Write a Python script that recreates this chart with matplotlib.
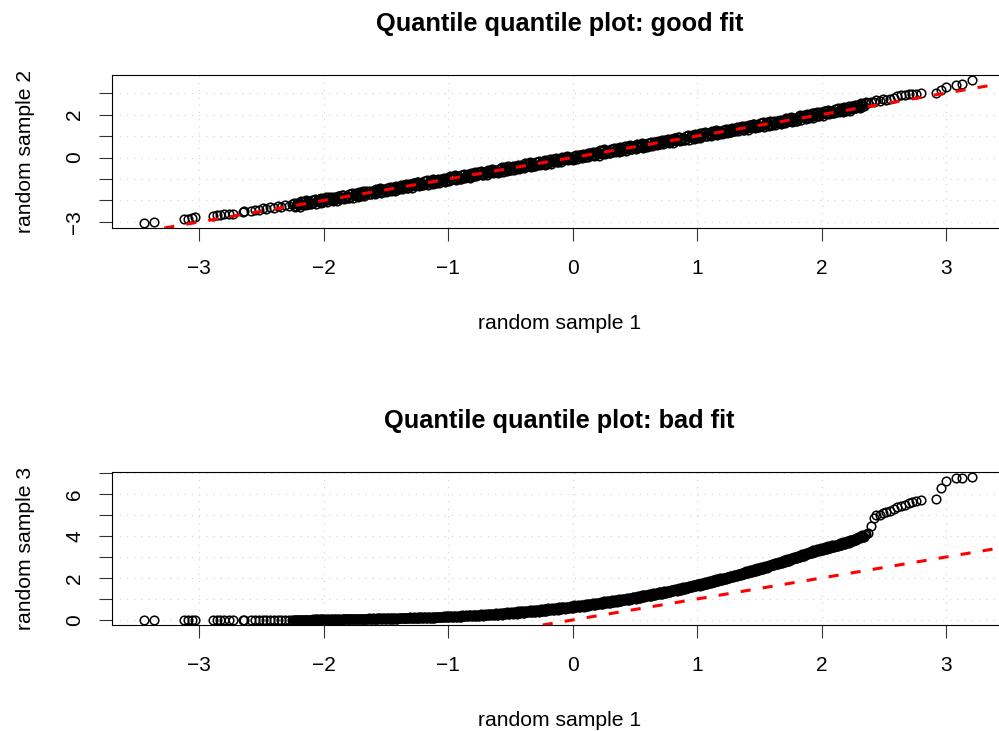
import matplotlib
matplotlib.use("Agg")
import matplotlib.pyplot as plt

plt.rcParams['font.family'] = ['Liberation Sans', 'DejaVu Sans']

# ---- data (quantiles) ----
sample1_left = [-3.44, -3.36, -3.12, -3.09, -3.06, -3.03, -2.89, -2.86, -2.83, -2.80,
                -2.76, -2.73, -2.65, -2.64, -2.58, -2.55, -2.52, -2.49, -2.46, -2.43,
                -2.40, -2.37, -2.34, -2.31, -2.28, -2.25]
sample1_core = [
    -2.235, -2.220, -2.205, -2.190, -2.175, -2.160, -2.145, -2.130, -2.115, -2.100,
    -2.085, -2.070, -2.055, -2.040, -2.025, -2.010, -1.995, -1.980, -1.965, -1.950,
    -1.935, -1.920, -1.905, -1.890, -1.875, -1.860, -1.845, -1.830, -1.815, -1.800,
    -1.785, -1.770, -1.755, -1.740, -1.725, -1.710, -1.695, -1.680, -1.665, -1.650,
    -1.635, -1.620, -1.605, -1.590, -1.575, -1.560, -1.545, -1.530, -1.515, -1.500,
    -1.485, -1.470, -1.455, -1.440, -1.425, -1.410, -1.395, -1.380, -1.365, -1.350,
    -1.335, -1.320, -1.305, -1.290, -1.275, -1.260, -1.245, -1.230, -1.215, -1.200,
    -1.185, -1.170, -1.155, -1.140, -1.125, -1.110, -1.095, -1.080, -1.065, -1.050,
    -1.035, -1.020, -1.005, -0.990, -0.975, -0.960, -0.945, -0.930, -0.915, -0.900,
    -0.885, -0.870, -0.855, -0.840, -0.825, -0.810, -0.795, -0.780, -0.765, -0.750,
    -0.735, -0.720, -0.705, -0.690, -0.675, -0.660, -0.645, -0.630, -0.615, -0.600,
    -0.585, -0.570, -0.555, -0.540, -0.525, -0.510, -0.495, -0.480, -0.465, -0.450,
    -0.435, -0.420, -0.405, -0.390, -0.375, -0.360, -0.345, -0.330, -0.315, -0.300,
    -0.285, -0.270, -0.255, -0.240, -0.225, -0.210, -0.195, -0.180, -0.165, -0.150,
    -0.135, -0.120, -0.105, -0.090, -0.075, -0.060, -0.045, -0.030, -0.015, 0.000,
    0.015, 0.030, 0.045, 0.060, 0.075, 0.090, 0.105, 0.120, 0.135, 0.150,
    0.165, 0.180, 0.195, 0.210, 0.225, 0.240, 0.255, 0.270, 0.285, 0.300,
    0.315, 0.330, 0.345, 0.360, 0.375, 0.390, 0.405, 0.420, 0.435, 0.450,
    0.465, 0.480, 0.495, 0.510, 0.525, 0.540, 0.555, 0.570, 0.585, 0.600,
    0.615, 0.630, 0.645, 0.660, 0.675, 0.690, 0.705, 0.720, 0.735, 0.750,
    0.765, 0.780, 0.795, 0.810, 0.825, 0.840, 0.855, 0.870, 0.885, 0.900,
    0.915, 0.930, 0.945, 0.960, 0.975, 0.990, 1.005, 1.020, 1.035, 1.050,
    1.065, 1.080, 1.095, 1.110, 1.125, 1.140, 1.155, 1.170, 1.185, 1.200,
    1.215, 1.230, 1.245, 1.260, 1.275, 1.290, 1.305, 1.320, 1.335, 1.350,
    1.365, 1.380, 1.395, 1.410, 1.425, 1.440, 1.455, 1.470, 1.485, 1.500,
    1.515, 1.530, 1.545, 1.560, 1.575, 1.590, 1.605, 1.620, 1.635, 1.650,
    1.665, 1.680, 1.695, 1.710, 1.725, 1.740, 1.755, 1.770, 1.785, 1.800,
    1.815, 1.830, 1.845, 1.860, 1.875, 1.890, 1.905, 1.920, 1.935, 1.950,
    1.965, 1.980, 1.995, 2.010, 2.025, 2.040, 2.055, 2.070, 2.085, 2.100,
    2.115, 2.130, 2.145, 2.160, 2.175, 2.190, 2.205, 2.220, 2.235, 2.250,
    2.265, 2.280, 2.295, 2.310, 2.325, 2.340, 2.355]
sample1_core_b = [
    -2.2275, -2.2125, -2.1975, -2.1825, -2.1675, -2.1525, -2.1375, -2.1225, -2.1075, -2.0925,
    -2.0775, -2.0625, -2.0475, -2.0325, -2.0175, -2.0025, -1.9875, -1.9725, -1.9575, -1.9425,
    -1.9275, -1.9125, -1.8975, -1.8825, -1.8675, -1.8525, -1.8375, -1.8225, -1.8075, -1.7925,
    -1.7775, -1.7625, -1.7475, -1.7325, -1.7175, -1.7025, -1.6875, -1.6725, -1.6575, -1.6425,
    -1.6275, -1.6125, -1.5975, -1.5825, -1.5675, -1.5525, -1.5375, -1.5225, -1.5075, -1.4925,
    -1.4775, -1.4625, -1.4475, -1.4325, -1.4175, -1.4025, -1.3875, -1.3725, -1.3575, -1.3425,
    -1.3275, -1.3125, -1.2975, -1.2825, -1.2675, -1.2525, -1.2375, -1.2225, -1.2075, -1.1925,
    -1.1775, -1.1625, -1.1475, -1.1325, -1.1175, -1.1025, -1.0875, -1.0725, -1.0575, -1.0425,
    -1.0275, -1.0125, -0.9975, -0.9825, -0.9675, -0.9525, -0.9375, -0.9225, -0.9075, -0.8925,
    -0.8775, -0.8625, -0.8475, -0.8325, -0.8175, -0.8025, -0.7875, -0.7725, -0.7575, -0.7425,
    -0.7275, -0.7125, -0.6975, -0.6825, -0.6675, -0.6525, -0.6375, -0.6225, -0.6075, -0.5925,
    -0.5775, -0.5625, -0.5475, -0.5325, -0.5175, -0.5025, -0.4875, -0.4725, -0.4575, -0.4425,
    -0.4275, -0.4125, -0.3975, -0.3825, -0.3675, -0.3525, -0.3375, -0.3225, -0.3075, -0.2925,
    -0.2775, -0.2625, -0.2475, -0.2325, -0.2175, -0.2025, -0.1875, -0.1725, -0.1575, -0.1425,
    -0.1275, -0.1125, -0.0975, -0.0825, -0.0675, -0.0525, -0.0375, -0.0225, -0.0075, 0.0075,
    0.0225, 0.0375, 0.0525, 0.0675, 0.0825, 0.0975, 0.1125, 0.1275, 0.1425, 0.1575,
    0.1725, 0.1875, 0.2025, 0.2175, 0.2325, 0.2475, 0.2625, 0.2775, 0.2925, 0.3075,
    0.3225, 0.3375, 0.3525, 0.3675, 0.3825, 0.3975, 0.4125, 0.4275, 0.4425, 0.4575,
    0.4725, 0.4875, 0.5025, 0.5175, 0.5325, 0.5475, 0.5625, 0.5775, 0.5925, 0.6075,
    0.6225, 0.6375, 0.6525, 0.6675, 0.6825, 0.6975, 0.7125, 0.7275, 0.7425, 0.7575,
    0.7725, 0.7875, 0.8025, 0.8175, 0.8325, 0.8475, 0.8625, 0.8775, 0.8925, 0.9075,
    0.9225, 0.9375, 0.9525, 0.9675, 0.9825, 0.9975, 1.0125, 1.0275, 1.0425, 1.0575,
    1.0725, 1.0875, 1.1025, 1.1175, 1.1325, 1.1475, 1.1625, 1.1775, 1.1925, 1.2075,
    1.2225, 1.2375, 1.2525, 1.2675, 1.2825, 1.2975, 1.3125, 1.3275, 1.3425, 1.3575,
    1.3725, 1.3875, 1.4025, 1.4175, 1.4325, 1.4475, 1.4625, 1.4775, 1.4925, 1.5075,
    1.5225, 1.5375, 1.5525, 1.5675, 1.5825, 1.5975, 1.6125, 1.6275, 1.6425, 1.6575,
    1.6725, 1.6875, 1.7025, 1.7175, 1.7325, 1.7475, 1.7625, 1.7775, 1.7925, 1.8075,
    1.8225, 1.8375, 1.8525, 1.8675, 1.8825, 1.8975, 1.9125, 1.9275, 1.9425, 1.9575,
    1.9725, 1.9875, 2.0025, 2.0175, 2.0325, 2.0475, 2.0625, 2.0775, 2.0925, 2.1075,
    2.1225, 2.1375, 2.1525, 2.1675, 2.1825, 2.1975, 2.2125, 2.2275, 2.2425, 2.2575,
    2.2725, 2.2875, 2.3025, 2.3175, 2.3325, 2.3475]
sample1_right = [2.37, 2.40, 2.42, 2.44, 2.47, 2.49, 2.52, 2.55, 2.58, 2.61,
                 2.64, 2.67, 2.70, 2.73, 2.76, 2.80, 2.92, 2.96, 3.00, 3.08,
                 3.13, 3.21]

sample2_left = [-3.04, -3.00, -2.88, -2.85, -2.80, -2.76, -2.72, -2.69, -2.66, -2.64,
                -2.62, -2.61, -2.53, -2.51, -2.48, -2.42, -2.45, -2.36, -2.40, -2.30,
                -2.35, -2.25, -2.30, -2.20, -2.26, -2.17]
sample2_core = [
    -2.105, -2.270, -2.145, -2.280, -2.075, -2.150, -1.995, -2.160, -2.075, -2.170,
    -2.125, -1.940, -2.045, -1.940, -2.115, -1.950, -2.045, -1.860, -1.975, -1.870,
    -1.835, -2.000, -1.875, -2.010, -1.805, -1.880, -1.725, -1.890, -1.805, -1.900,
    -1.845, -1.660, -1.765, -1.660, -1.835, -1.670, -1.765, -1.580, -1.695, -1.590,
    -1.535, -1.700, -1.575, -1.710, -1.505, -1.580, -1.425, -1.590, -1.505, -1.600,
    -1.545, -1.360, -1.465, -1.360, -1.535, -1.370, -1.465, -1.280, -1.395, -1.290,
    -1.235, -1.400, -1.275, -1.410, -1.205, -1.280, -1.125, -1.290, -1.205, -1.300,
    -1.245, -1.060, -1.165, -1.060, -1.235, -1.070, -1.165, -0.980, -1.095, -0.990,
    -0.935, -1.100, -0.975, -1.110, -0.905, -0.980, -0.825, -0.990, -0.905, -1.000,
    -0.945, -0.760, -0.865, -0.760, -0.935, -0.770, -0.865, -0.680, -0.795, -0.690,
    -0.635, -0.800, -0.675, -0.810, -0.605, -0.680, -0.525, -0.690, -0.605, -0.700,
    -0.645, -0.460, -0.565, -0.460, -0.635, -0.470, -0.565, -0.380, -0.495, -0.390,
    -0.335, -0.500, -0.375, -0.510, -0.305, -0.380, -0.225, -0.390, -0.305, -0.400,
    -0.345, -0.160, -0.265, -0.160, -0.335, -0.170, -0.265, -0.080, -0.195, -0.090,
    -0.035, -0.200, -0.075, -0.210, -0.005, -0.080, 0.075, -0.090, -0.005, -0.100,
    -0.045, 0.140, 0.035, 0.140, -0.035, 0.130, 0.035, 0.220, 0.105, 0.210,
    0.265, 0.100, 0.225, 0.090, 0.295, 0.220, 0.375, 0.210, 0.295, 0.200,
    0.255, 0.440, 0.335, 0.440, 0.265, 0.430, 0.335, 0.520, 0.405, 0.510,
    0.565, 0.400, 0.525, 0.390, 0.595, 0.520, 0.675, 0.510, 0.595, 0.500,
    0.555, 0.740, 0.635, 0.740, 0.565, 0.730, 0.635, 0.820, 0.705, 0.810,
    0.865, 0.700, 0.825, 0.690, 0.895, 0.820, 0.975, 0.810, 0.895, 0.800,
    0.855, 1.040, 0.935, 1.040, 0.865, 1.030, 0.935, 1.120, 1.005, 1.110,
    1.165, 1.000, 1.125, 0.990, 1.195, 1.120, 1.275, 1.110, 1.195, 1.100,
    1.155, 1.340, 1.235, 1.340, 1.165, 1.330, 1.235, 1.420, 1.305, 1.410,
    1.465, 1.300, 1.425, 1.290, 1.495, 1.420, 1.575, 1.410, 1.495, 1.400,
    1.455, 1.640, 1.535, 1.640, 1.465, 1.630, 1.535, 1.720, 1.605, 1.710,
    1.765, 1.600, 1.725, 1.590, 1.795, 1.720, 1.875, 1.710, 1.795, 1.700,
    1.785, 1.970, 1.865, 1.970, 1.795, 1.960, 1.865, 2.050, 1.935, 2.040,
    2.115, 1.950, 2.075, 1.940, 2.145, 2.070, 2.225, 2.060, 2.145, 2.050,
    2.125, 2.310, 2.205, 2.310, 2.135, 2.300, 2.205, 2.390, 2.275, 2.380,
    2.465, 2.300, 2.425, 2.290, 2.495, 2.420, 2.575]
sample2_core_b = [
    -2.2875, -2.1225, -2.2075, -2.0425, -2.1875, -2.0325, -2.2075, -2.0525, -2.1475, -1.9825,
    -1.9875, -2.1425, -1.9775, -2.0725, -1.8975, -2.0625, -1.9375, -2.0625, -1.8575, -1.9625,
    -2.0175, -1.8525, -1.9375, -1.7725, -1.9175, -1.7625, -1.9375, -1.7825, -1.8775, -1.7125,
    -1.7075, -1.8625, -1.6975, -1.7925, -1.6175, -1.7825, -1.6575, -1.7825, -1.5775, -1.6825,
    -1.7175, -1.5525, -1.6375, -1.4725, -1.6175, -1.4625, -1.6375, -1.4825, -1.5775, -1.4125,
    -1.4075, -1.5625, -1.3975, -1.4925, -1.3175, -1.4825, -1.3575, -1.4825, -1.2775, -1.3825,
    -1.4175, -1.2525, -1.3375, -1.1725, -1.3175, -1.1625, -1.3375, -1.1825, -1.2775, -1.1125,
    -1.1075, -1.2625, -1.0975, -1.1925, -1.0175, -1.1825, -1.0575, -1.1825, -0.9775, -1.0825,
    -1.1175, -0.9525, -1.0375, -0.8725, -1.0175, -0.8625, -1.0375, -0.8825, -0.9775, -0.8125,
    -0.8075, -0.9625, -0.7975, -0.8925, -0.7175, -0.8825, -0.7575, -0.8825, -0.6775, -0.7825,
    -0.8175, -0.6525, -0.7375, -0.5725, -0.7175, -0.5625, -0.7375, -0.5825, -0.6775, -0.5125,
    -0.5075, -0.6625, -0.4975, -0.5925, -0.4175, -0.5825, -0.4575, -0.5825, -0.3775, -0.4825,
    -0.5175, -0.3525, -0.4375, -0.2725, -0.4175, -0.2625, -0.4375, -0.2825, -0.3775, -0.2125,
    -0.2075, -0.3625, -0.1975, -0.2925, -0.1175, -0.2825, -0.1575, -0.2825, -0.0775, -0.1825,
    -0.2175, -0.0525, -0.1375, 0.0275, -0.1175, 0.0375, -0.1375, 0.0175, -0.0775, 0.0875,
    0.0925, -0.0625, 0.1025, 0.0075, 0.1825, 0.0175, 0.1425, 0.0175, 0.2225, 0.1175,
    0.0825, 0.2475, 0.1625, 0.3275, 0.1825, 0.3375, 0.1625, 0.3175, 0.2225, 0.3875,
    0.3925, 0.2375, 0.4025, 0.3075, 0.4825, 0.3175, 0.4425, 0.3175, 0.5225, 0.4175,
    0.3825, 0.5475, 0.4625, 0.6275, 0.4825, 0.6375, 0.4625, 0.6175, 0.5225, 0.6875,
    0.6925, 0.5375, 0.7025, 0.6075, 0.7825, 0.6175, 0.7425, 0.6175, 0.8225, 0.7175,
    0.6825, 0.8475, 0.7625, 0.9275, 0.7825, 0.9375, 0.7625, 0.9175, 0.8225, 0.9875,
    0.9925, 0.8375, 1.0025, 0.9075, 1.0825, 0.9175, 1.0425, 0.9175, 1.1225, 1.0175,
    0.9825, 1.1475, 1.0625, 1.2275, 1.0825, 1.2375, 1.0625, 1.2175, 1.1225, 1.2875,
    1.2925, 1.1375, 1.3025, 1.2075, 1.3825, 1.2175, 1.3425, 1.2175, 1.4225, 1.3175,
    1.2825, 1.4475, 1.3625, 1.5275, 1.3825, 1.5375, 1.3625, 1.5175, 1.4225, 1.5875,
    1.5925, 1.4375, 1.6025, 1.5075, 1.6825, 1.5175, 1.6425, 1.5175, 1.7225, 1.6175,
    1.5825, 1.7475, 1.6625, 1.8275, 1.6825, 1.8375, 1.6625, 1.8175, 1.7225, 1.8875,
    1.9225, 1.7675, 1.9325, 1.8375, 2.0125, 1.8475, 1.9725, 1.8475, 2.0525, 1.9475,
    1.9325, 2.0975, 2.0125, 2.1775, 2.0325, 2.1875, 2.0125, 2.1675, 2.0725, 2.2375,
    2.2625, 2.1075, 2.2725, 2.1775, 2.3525, 2.1875, 2.3125, 2.1875, 2.3925, 2.2875,
    2.2825, 2.4475, 2.3625, 2.5275, 2.3825, 2.5375]
sample2_right = [2.52, 2.60, 2.58, 2.66, 2.64, 2.72, 2.69, 2.72, 2.76, 2.86,
                 2.89, 2.92, 2.95, 2.94, 2.97, 3.00, 3.00, 3.16, 3.27, 3.39,
                 3.44, 3.62]

sample3_left = [0.00, 0.00, 0.00, 0.00, 0.00, 0.00, 0.00, 0.00, 0.01, 0.01,
                0.01, 0.01, 0.01, 0.01, 0.01, 0.01, 0.01, 0.01, 0.01, 0.01,
                0.01, 0.01, 0.01, 0.01, 0.01, 0.01]
sample3_core = [
    0.02, 0.00, 0.02, 0.01, 0.02, 0.00, 0.02, 0.01, 0.02, 0.01,
    0.03, 0.01, 0.03, 0.01, 0.03, 0.02, 0.03, 0.02, 0.03, 0.02,
    0.04, 0.02, 0.04, 0.02, 0.04, 0.02, 0.04, 0.03, 0.04, 0.03,
    0.05, 0.03, 0.05, 0.03, 0.05, 0.03, 0.05, 0.04, 0.06, 0.04,
    0.07, 0.04, 0.07, 0.04, 0.07, 0.05, 0.07, 0.05, 0.08, 0.05,
    0.08, 0.05, 0.09, 0.06, 0.09, 0.06, 0.10, 0.07, 0.10, 0.07,
    0.11, 0.07, 0.12, 0.08, 0.12, 0.08, 0.13, 0.09, 0.13, 0.09,
    0.14, 0.10, 0.15, 0.10, 0.15, 0.11, 0.16, 0.12, 0.16, 0.12,
    0.18, 0.13, 0.19, 0.14, 0.19, 0.15, 0.20, 0.15, 0.21, 0.16,
    0.22, 0.17, 0.23, 0.18, 0.24, 0.19, 0.25, 0.19, 0.25, 0.20,
    0.27, 0.21, 0.28, 0.22, 0.29, 0.23, 0.30, 0.24, 0.31, 0.24,
    0.34, 0.26, 0.35, 0.27, 0.36, 0.28, 0.37, 0.29, 0.37, 0.30,
    0.41, 0.33, 0.42, 0.34, 0.44, 0.36, 0.46, 0.37, 0.47, 0.39,
    0.49, 0.40, 0.51, 0.42, 0.53, 0.44, 0.55, 0.46, 0.56, 0.47,
    0.58, 0.49, 0.60, 0.51, 0.62, 0.53, 0.64, 0.55, 0.66, 0.58,
    0.69, 0.60, 0.71, 0.62, 0.73, 0.64, 0.75, 0.67, 0.78, 0.69,
    0.80, 0.71, 0.83, 0.74, 0.85, 0.77, 0.88, 0.79, 0.90, 0.82,
    0.93, 0.84, 0.96, 0.87, 0.99, 0.90, 1.02, 0.93, 1.04, 0.96,
    1.07, 0.99, 1.11, 1.02, 1.14, 1.05, 1.17, 1.08, 1.20, 1.12,
    1.23, 1.15, 1.27, 1.18, 1.30, 1.22, 1.34, 1.25, 1.37, 1.29,
    1.40, 1.32, 1.44, 1.36, 1.48, 1.40, 1.52, 1.44, 1.56, 1.47,
    1.59, 1.51, 1.63, 1.55, 1.68, 1.60, 1.72, 1.64, 1.76, 1.68,
    1.80, 1.72, 1.84, 1.76, 1.89, 1.81, 1.93, 1.85, 1.98, 1.90,
    2.02, 1.94, 2.07, 1.99, 2.11, 2.04, 2.16, 2.09, 2.21, 2.13,
    2.26, 2.18, 2.31, 2.23, 2.36, 2.29, 2.41, 2.34, 2.46, 2.39,
    2.51, 2.44, 2.57, 2.49, 2.62, 2.55, 2.68, 2.60, 2.73, 2.66,
    2.78, 2.71, 2.84, 2.77, 2.90, 2.83, 2.96, 2.89, 3.01, 2.94,
    3.07, 3.00, 3.13, 3.06, 3.19, 3.13, 3.26, 3.19, 3.32, 3.25,
    3.38, 3.30, 3.42, 3.34, 3.46, 3.39, 3.51, 3.43, 3.55, 3.47,
    3.59, 3.52, 3.65, 3.58, 3.71, 3.64, 3.76, 3.69, 3.82, 3.75,
    3.88, 3.82, 3.95, 3.89, 4.03, 3.97, 4.10]
sample3_core_b = [
    0.01, 0.02, 0.01, 0.02, 0.01, 0.02, 0.01, 0.02, 0.01, 0.02,
    0.01, 0.03, 0.01, 0.03, 0.02, 0.03, 0.02, 0.03, 0.02, 0.03,
    0.02, 0.04, 0.02, 0.04, 0.02, 0.04, 0.03, 0.04, 0.03, 0.04,
    0.03, 0.05, 0.03, 0.05, 0.03, 0.05, 0.04, 0.05, 0.04, 0.06,
    0.04, 0.06, 0.04, 0.06, 0.05, 0.07, 0.05, 0.07, 0.05, 0.07,
    0.05, 0.08, 0.06, 0.08, 0.06, 0.09, 0.07, 0.09, 0.07, 0.10,
    0.07, 0.10, 0.08, 0.11, 0.08, 0.11, 0.09, 0.12, 0.09, 0.12,
    0.10, 0.13, 0.10, 0.14, 0.11, 0.15, 0.12, 0.15, 0.12, 0.16,
    0.13, 0.17, 0.14, 0.18, 0.15, 0.19, 0.15, 0.20, 0.16, 0.20,
    0.17, 0.21, 0.18, 0.22, 0.19, 0.23, 0.19, 0.24, 0.20, 0.25,
    0.22, 0.26, 0.23, 0.27, 0.24, 0.28, 0.25, 0.29, 0.26, 0.30,
    0.28, 0.32, 0.29, 0.33, 0.30, 0.34, 0.31, 0.36, 0.32, 0.37,
    0.34, 0.41, 0.35, 0.42, 0.37, 0.44, 0.38, 0.45, 0.40, 0.47,
    0.42, 0.49, 0.43, 0.50, 0.45, 0.52, 0.47, 0.54, 0.49, 0.56,
    0.51, 0.58, 0.53, 0.60, 0.55, 0.62, 0.57, 0.64, 0.59, 0.66,
    0.61, 0.68, 0.63, 0.71, 0.66, 0.73, 0.68, 0.75, 0.70, 0.78,
    0.73, 0.80, 0.75, 0.83, 0.78, 0.85, 0.80, 0.88, 0.83, 0.90,
    0.86, 0.93, 0.88, 0.96, 0.91, 0.99, 0.94, 1.02, 0.97, 1.05,
    1.00, 1.08, 1.03, 1.11, 1.06, 1.14, 1.10, 1.17, 1.13, 1.20,
    1.16, 1.24, 1.19, 1.27, 1.23, 1.31, 1.26, 1.34, 1.30, 1.38,
    1.33, 1.41, 1.37, 1.45, 1.41, 1.49, 1.45, 1.53, 1.49, 1.56,
    1.52, 1.60, 1.56, 1.65, 1.61, 1.69, 1.65, 1.73, 1.69, 1.77,
    1.73, 1.81, 1.77, 1.86, 1.82, 1.90, 1.86, 1.94, 1.91, 1.99,
    1.95, 2.04, 2.00, 2.08, 2.05, 2.13, 2.09, 2.18, 2.14, 2.23,
    2.19, 2.28, 2.24, 2.33, 2.29, 2.38, 2.34, 2.43, 2.39, 2.48,
    2.45, 2.53, 2.50, 2.59, 2.55, 2.64, 2.61, 2.70, 2.66, 2.75,
    2.72, 2.81, 2.77, 2.86, 2.83, 2.92, 2.89, 2.98, 2.95, 3.04,
    3.01, 3.10, 3.07, 3.16, 3.13, 3.22, 3.19, 3.28, 3.25, 3.34,
    3.31, 3.39, 3.35, 3.43, 3.39, 3.48, 3.44, 3.52, 3.48, 3.56,
    3.53, 3.61, 3.58, 3.67, 3.64, 3.73, 3.70, 3.79, 3.76, 3.85,
    3.82, 3.92, 3.89, 3.99, 3.97, 4.06]
sample3_right = [4.15, 4.50, 4.85, 4.98, 5.02, 5.08, 5.14, 5.20, 5.28, 5.36,
                 5.43, 5.50, 5.56, 5.62, 5.66, 5.71, 5.76, 6.30, 6.62, 6.78,
                 6.78, 6.83]

sample1 = sample1_left + sample1_core + sample1_core_b + sample1_right
sample2 = sample2_left + sample2_core + sample2_core_b + sample2_right
sample3 = sample3_left + sample3_core + sample3_core_b + sample3_right

x_ticks = [-3, -2, -1, 0, 1, 2, 3]
x_ticklabels = ['\u22123', '\u22122', '\u22121', '0', '1', '2', '3']
y2_ticks = [-3, -2, -1, 0, 1, 2, 3]
y2_ticklabels = ['\u22123', '', '', '0', '', '2', '']
y3_ticks = [0, 1, 2, 3, 4, 5, 6, 7]
y3_ticklabels = ['0', '', '2', '', '4', '', '6', '']

titles = ['Quantile quantile plot: good fit', 'Quantile quantile plot: bad fit']
xlabel = 'random sample 1'
ylabels = ['random sample 2', 'random sample 3']

# ---- figure ----
W, H = 999, 731
fig = plt.figure(figsize=(W / 100, H / 100), dpi=100)


def panel(top_px, bottom_px, yvals, ylim, yticks, yticklabels, title, ylab):
    left_px, right_px = 112, 1007
    ax = fig.add_axes([left_px / W, (H - bottom_px) / H,
                       (right_px - left_px) / W, (bottom_px - top_px) / H])
    ax.set_axisbelow(True)
    ax.grid(True, color='#d3d3d3', linewidth=0.8, linestyle=(0, (1, 5.5)))
    ax.plot(sample1, yvals, linestyle='none', marker='o', ms=6.2,
            mfc='none', mec='black', mew=1.1, zorder=2)
    ax.axline((0, 0), slope=1, color='#ff0000', lw=2.2,
              linestyle=(0, (3.3, 4)), zorder=3)
    ax.set_xlim(-3.70, 3.49)
    ax.set_ylim(*ylim)
    ax.set_xticks(x_ticks)
    ax.set_xticklabels(x_ticklabels)
    ax.set_yticks(yticks)
    ax.set_yticklabels(yticklabels)
    for s in ax.spines.values():
        s.set_linewidth(0.8)
        s.set_color('black')
    ax.tick_params(direction='out', length=9.4, width=0.8, labelsize=15,
                   color='#333333')
    ax.tick_params(axis='x', pad=13.0)
    ax.tick_params(axis='y', pad=10.5, labelrotation=90)
    for t in ax.get_yticklabels():
        t.set_va('center')
        t.set_ha('right')
    ax.set_title(title, fontsize=18.3, fontweight='bold', y=1.333,
                 va='center', pad=0)
    ax.set_xlabel(xlabel, fontsize=15.2, va='center')
    ax.xaxis.set_label_coords(0.5, -0.625)
    ax.set_ylabel(ylab, fontsize=15.2, va='center')
    ax.yaxis.set_label_coords(-0.097, 0.5)
    return ax


panel(75, 228, sample2, (-3.28, 3.84), y2_ticks, y2_ticklabels,
      titles[0], ylabels[0])
panel(472, 625, sample3, (-0.24, 7.05), y3_ticks, y3_ticklabels,
      titles[1], ylabels[1])

fig.savefig('out.png', dpi=100)
